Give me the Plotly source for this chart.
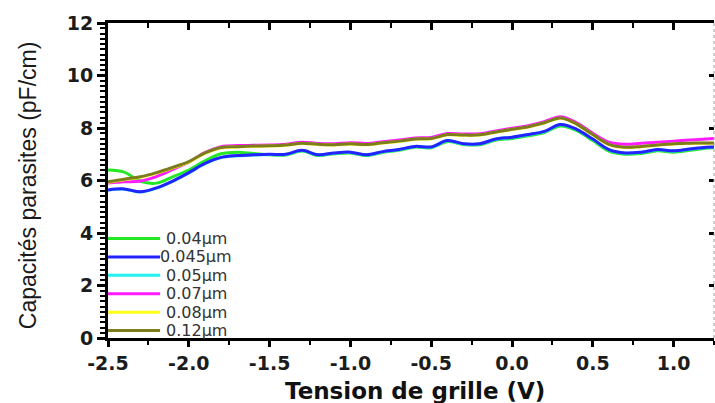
import plotly.graph_objects as go

volts = [-2.5, -2.4, -2.3, -2.2, -2.1, -2.0, -1.9, -1.8, -1.7, -1.6, -1.5, -1.4, -1.3,
         -1.2, -1.1, -1.0, -0.9, -0.8, -0.7, -0.6, -0.5, -0.4, -0.3, -0.2, -0.1, 0.0,
         0.1, 0.2, 0.3, 0.4, 0.5, 0.6, 0.7, 0.8, 0.9, 1.0, 1.1, 1.2, 1.25]

c_004 = [6.4, 6.32, 5.97, 5.9, 6.14, 6.4, 6.75, 7.02, 7.08, 7.03, 6.98, 6.97, 7.12,
         6.95, 7.02, 7.05, 6.95, 7.07, 7.15, 7.27, 7.25, 7.48, 7.37, 7.36, 7.54, 7.6,
         7.7, 7.83, 8.08, 7.9, 7.52, 7.12, 7.0, 7.03, 7.13, 7.08, 7.15, 7.23, 7.25]
c_0045 = [5.64, 5.68, 5.57, 5.72, 5.98, 6.3, 6.65, 6.88, 6.95, 6.98, 7.0, 7.0, 7.15,
          6.98, 7.05, 7.08, 6.98, 7.1, 7.18, 7.3, 7.28, 7.52, 7.4, 7.4, 7.58, 7.65,
          7.75, 7.87, 8.13, 7.95, 7.58, 7.18, 7.05, 7.08, 7.18, 7.13, 7.2, 7.27, 7.28]
c_005 = [5.63, 5.67, 5.56, 5.71, 5.97, 6.29, 6.64, 6.87, 6.94, 6.97, 6.99, 6.99, 7.14,
         6.97, 7.04, 7.07, 6.97, 7.09, 7.17, 7.29, 7.27, 7.51, 7.39, 7.39, 7.57, 7.64,
         7.74, 7.86, 8.12, 7.94, 7.57, 7.17, 7.04, 7.07, 7.17, 7.12, 7.19, 7.26, 7.27]
c_007 = [5.9, 5.95, 5.98, 6.15, 6.42, 6.7, 7.06, 7.29, 7.33, 7.34, 7.35, 7.38, 7.46,
         7.41, 7.4, 7.44, 7.41, 7.48, 7.54, 7.62, 7.64, 7.79, 7.77, 7.78, 7.89, 7.99,
         8.09, 8.24, 8.43, 8.2, 7.8, 7.46, 7.38, 7.42, 7.46, 7.5, 7.54, 7.58, 7.6]
c_008 = [5.93, 6.03, 6.12, 6.28, 6.48, 6.7, 7.03, 7.25, 7.28, 7.3, 7.31, 7.34, 7.41,
         7.37, 7.35, 7.39, 7.36, 7.43, 7.49, 7.57, 7.59, 7.74, 7.72, 7.73, 7.84, 7.94,
         8.04, 8.19, 8.37, 8.14, 7.74, 7.37, 7.26, 7.29, 7.34, 7.39, 7.41, 7.42, 7.42]
c_012 = [5.95, 6.05, 6.14, 6.3, 6.5, 6.72, 7.05, 7.26, 7.29, 7.31, 7.32, 7.35, 7.42,
         7.38, 7.36, 7.4, 7.37, 7.44, 7.5, 7.58, 7.6, 7.75, 7.73, 7.74, 7.85, 7.95,
         8.05, 8.2, 8.38, 8.15, 7.75, 7.38, 7.27, 7.3, 7.35, 7.4, 7.42, 7.43, 7.43]

series_names = ["0.04µm", "0.045µm", "0.05µm", "0.07µm", "0.08µm", "0.12µm"]
series_values = [c_004, c_0045, c_005, c_007, c_008, c_012]
series_colors = ["#25e825", "#2323ff", "#22f2f2", "#ff1aff", "#ffff1a", "#7d7d1e"]
draw_order = [0, 2, 1, 3, 4, 5]

x_ticks = [-2.5, -2.0, -1.5, -1.0, -0.5, 0.0, 0.5, 1.0]
x_tick_labels = ["-2.5", "-2.0", "-1.5", "-1.0", "-0.5", "0.0", "0.5", "1.0"]
y_ticks = [0, 2, 4, 6, 8, 10, 12]

fig = go.Figure()
for n, i in enumerate(draw_order):
    last = (n == len(draw_order) - 1)
    fig.add_trace(go.Scatter(
        x=volts, y=series_values[i], mode="lines", name=series_names[i],
        xaxis="x2" if last else "x", yaxis="y2" if last else "y",
        line=dict(color=series_colors[i], width=3, shape="spline", smoothing=1.0),
        showlegend=False, hoverinfo="skip"))

tickfont = dict(family="DejaVu Sans", size=19, color="#1c1c1c", weight="bold")

fig.update_layout(
    width=715, height=403,
    margin=dict(l=108, r=1, t=23, b=65),
    paper_bgcolor="white", plot_bgcolor="white",
    showlegend=False,
    xaxis=dict(range=[-2.5, 1.25], tickvals=x_ticks, ticktext=x_tick_labels,
               showgrid=False, zeroline=False, showline=True, linecolor="black",
               linewidth=3, ticks="outside", ticklen=6, tickwidth=3, tickcolor="black",
               tickfont=tickfont, tickangle=0,
               minor=dict(dtick=0.25, tick0=-2.5, ticks="outside", ticklen=4,
                          tickwidth=2, tickcolor="black", showgrid=False)),
    yaxis=dict(range=[0, 12], tickvals=y_ticks, showgrid=False, zeroline=False,
               showline=True, linecolor="black", linewidth=3, ticks="outside",
               ticklen=8, tickwidth=3, tickcolor="black", tickfont=tickfont,
               minor=dict(dtick=0.2, tick0=0, ticks="outside", ticklen=5,
                          tickwidth=2, tickcolor="black", showgrid=False)),
    xaxis2=dict(range=[-2.5, 1.25], overlaying="x", side="top", anchor="y2",
                tickvals=x_ticks, showticklabels=False, showgrid=False,
                zeroline=False, showline=True, linecolor="black", linewidth=3,
                ticks="inside", ticklen=7, tickwidth=3, tickcolor="black",
                minor=dict(dtick=0.25, tick0=-2.5, ticks="inside", ticklen=5,
                           tickwidth=2, tickcolor="black", showgrid=False)),
    yaxis2=dict(range=[0, 12], overlaying="y", side="right", anchor="x2",
                tickvals=y_ticks, showticklabels=False, showgrid=False,
                zeroline=False, showline=False, ticks="inside", ticklen=5,
                tickwidth=3, tickcolor="black"),
)

# dotted right frame line
fig.add_shape(type="line", xref="paper", yref="paper", x0=1, x1=1, y0=0, y1=1,
              line=dict(color="#9a9a9a", width=1, dash="dot"))

# axis titles
fig.add_annotation(text="Tension de grille (V)", xref="paper", yref="paper",
                   x=0.507, y=-0.168, xanchor="center", yanchor="middle",
                   showarrow=False,
                   font=dict(family="DejaVu Sans", size=23, color="#111111",
                             weight="bold"))
fig.add_annotation(text="Capacités parasites (pF/cm)", xref="paper", yref="paper",
                   x=-0.132, y=0.485, xanchor="center", yanchor="middle",
                   textangle=-90, showarrow=False,
                   font=dict(family="Liberation Sans", size=23, color="#1a1a1a"))

# manual legend (inside plot, lower left)
leg_top = 0.316
leg_step = 0.0585
for k, (name, col) in enumerate(zip(series_names, series_colors)):
    yy = leg_top - k * leg_step
    fig.add_shape(type="line", xref="paper", yref="paper", x0=0.0, x1=0.086,
                  y0=yy, y1=yy, line=dict(color=col, width=3))
    fig.add_annotation(text=name, xref="paper", yref="paper",
                       x=0.092 if k != 1 else 0.083, y=yy, xanchor="left",
                       yanchor="middle", showarrow=False, height=17,
                       font=dict(family="DejaVu Sans", size=16, color="#333333"))

fig.write_html("out.html")
